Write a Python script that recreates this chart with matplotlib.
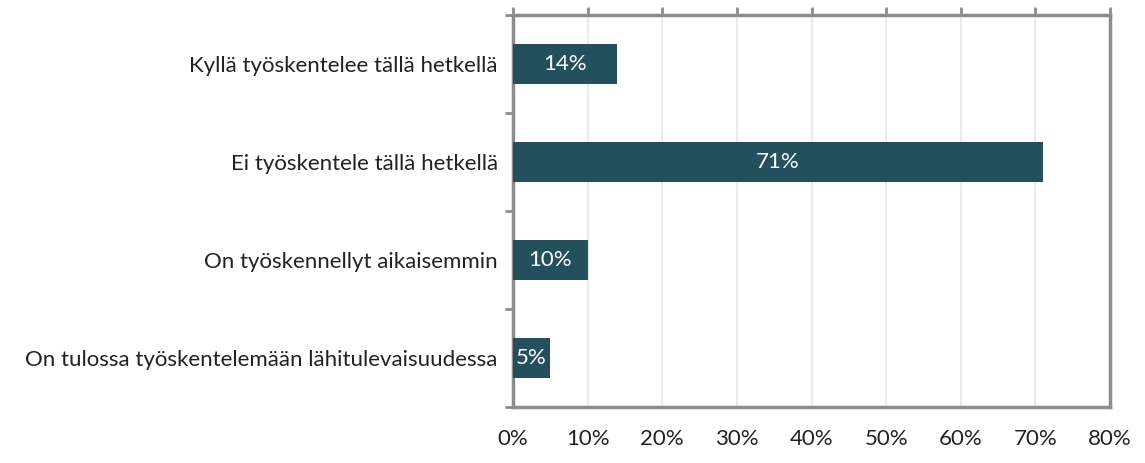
import matplotlib
matplotlib.use('Agg')
import matplotlib.pyplot as plt
import numpy as np

# Data
categories = [
    "Kyllä työskentelee tällä hetkellä",
    "Ei työskentele tällä hetkellä",
    "On työskennellyt aikaisemmin",
    "On tulossa työskentelemään lähitulevaisuudessa",
]
values = [14, 71, 10, 5]
x_ticks = [0, 10, 20, 30, 40, 50, 60, 70, 80]

bar_color = "#244F5C"
spine_color = "#8C8C8C"
grid_color = "#EBEBEB"

plt.rcParams['font.family'] = ['Lato', 'DejaVu Sans']

fig = plt.figure(figsize=(11.45, 4.63), dpi=100)
ax = fig.add_axes([513 / 1145, 1 - 407 / 463, (1110 - 513) / 1145, (407 - 15) / 463])

y = np.arange(len(categories))
ax.barh(y, values, height=0.4, color=bar_color, zorder=3)

for yi, v in zip(y, values):
    ax.text(v / 2, yi, f"{v}%", ha='center', va='center', color='white',
            fontsize=16, zorder=4)

ax.set_xlim(0, 80)
ax.set_ylim(len(categories) - 0.5, -0.5)

ax.set_xticks(x_ticks)
ax.set_xticklabels([f"{t}%" for t in x_ticks], fontsize=16, color='#222222')
ax.tick_params(axis='x', which='major', top=True, bottom=False, labelbottom=True,
               labeltop=False, length=6, width=2, color=spine_color, pad=10)

ax.set_yticks(y)
ax.set_yticklabels(categories, fontsize=16, color='#222222')
ax.set_yticks(np.arange(-0.5, len(categories), 1), minor=True)
ax.tick_params(axis='y', which='major', length=0, pad=11)
ax.tick_params(axis='y', which='minor', length=6, width=2, color=spine_color)

ax.grid(axis='x', color=grid_color, linewidth=1.5, zorder=0)
ax.set_axisbelow(True)

for s in ax.spines.values():
    s.set_color(spine_color)
    s.set_linewidth(2.5)

fig.savefig("out.png", dpi=100)
